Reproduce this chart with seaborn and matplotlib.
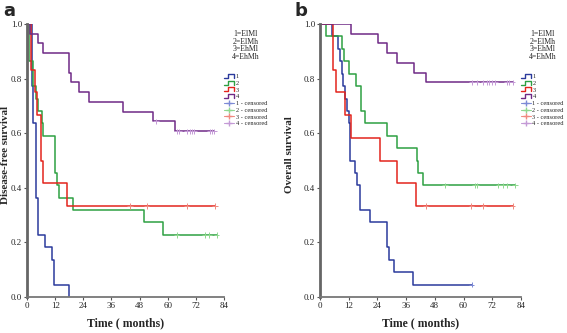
import numpy as np
import pandas as pd
import matplotlib
matplotlib.use("Agg")
import matplotlib.pyplot as plt
from matplotlib.lines import Line2D
from matplotlib.legend_handler import HandlerBase
import seaborn as sns

# ---- data ----
groups = ["1", "2", "3", "4"]

# panel a: disease-free survival (event times, survival after the step)
dfs_t1 = [0, 2, 2.7, 3.8, 4.8, 7.7, 10.8, 11.6, 18]
dfs_s1 = [1.0, 0.773, 0.636, 0.364, 0.227, 0.182, 0.136, 0.045, 0.0]
dfs_c1 = []
dfs_t2 = [0, 1, 2.7, 3.8, 4.8, 6.3, 6.7, 11.9, 12.9, 13.8, 19.7, 49.9, 58.1]
dfs_s2 = [1.0, 0.864, 0.773, 0.727, 0.682, 0.636, 0.591, 0.455, 0.409, 0.364, 0.318, 0.273, 0.227]
dfs_c2 = [63.8, 75.9, 77.7, 80.9]
dfs_t3 = [0, 1.7, 3.4, 4.1, 5.8, 6.7, 17]
dfs_s3 = [1.0, 0.833, 0.75, 0.667, 0.5, 0.417, 0.333]
dfs_c3 = [43.9, 51, 68.1, 80.2]
dfs_t4 = [0, 1.3, 4.8, 6.7, 17.9, 18.6, 22.2, 26.6, 40.9, 53.9, 63.1]
dfs_s4 = [1.0, 0.964, 0.929, 0.893, 0.821, 0.786, 0.75, 0.714, 0.679, 0.643, 0.607]
dfs_c4 = [55, 63.8, 65, 68.1, 69.5, 70.4, 71.2, 78, 79, 79.9]

# panel b: overall survival
os_t1 = [0, 4.9, 7.7, 8.4, 9.0, 9.8, 10.6, 11.4, 12.1, 12.6, 14.6, 15.3, 16.7, 20.9, 28.1, 29, 30.9, 39]
os_s1 = [1.0, 0.955, 0.909, 0.864, 0.818, 0.773, 0.727, 0.682, 0.636, 0.5, 0.455, 0.409, 0.318,
         0.273, 0.182, 0.136, 0.091, 0.045]
os_c1 = [63.4]
os_t2 = [0, 2.7, 9.0, 10.2, 12.3, 15, 17.1, 18.8, 28.1, 32, 40.4, 41.1, 43.2]
os_s2 = [1.0, 0.955, 0.909, 0.864, 0.818, 0.773, 0.682, 0.636, 0.591, 0.545, 0.5, 0.455, 0.409]
os_c2 = [52.2, 64.6, 65.5, 74.5, 76.3, 78.3, 81.5]
os_t3 = [0, 5.6, 6.6, 10.4, 12.8, 25.1, 32, 40.1]
os_s3 = [1.0, 0.833, 0.75, 0.667, 0.583, 0.5, 0.417, 0.333]
os_c3 = [44.2, 63.3, 68.3, 80.5]
os_t4 = [0, 13, 24.1, 28.1, 32, 39.4, 44.1]
os_s4 = [1.0, 0.964, 0.929, 0.893, 0.857, 0.821, 0.786]
os_c4 = [63.4, 65.5, 68.3, 69.7, 70.8, 71.9, 73.1, 78, 79.1, 80.5]

line_colors = ["#2b3a9c", "#2ea043", "#e3241c", "#6f2a86"]
cens_colors = ["#7d8ad6", "#8fd88f", "#f08a80", "#c49ad6"]
cens_labels = ["1 - censored", "2 - censored", "3 - censored", "4 - censored"]
key_text = "1=ElMl\n2=ElMh\n3=EhMl\n4=EhMh"


def survival_at(t_list, s_list, t):
    idx = np.searchsorted(t_list, t, side="right") - 1
    return s_list[idx]


def build_frames(times, survs, cens):
    rows, crow = [], []
    for g, t_list, s_list, c_list in zip(groups, times, survs, cens):
        for t, s in zip(t_list, s_list):
            rows.append((g, t, s))
        if c_list and c_list[-1] > t_list[-1]:
            rows.append((g, c_list[-1], s_list[-1]))
        for c in c_list:
            crow.append((g, c, survival_at(t_list, s_list, c)))
    return (pd.DataFrame(rows, columns=["group", "time", "surv"]),
            pd.DataFrame(crow, columns=["group", "time", "surv"]))


class StepHandler(HandlerBase):
    def create_artists(self, legend, orig_handle, xdescent, ydescent,
                       width, height, fontsize, trans):
        lo, hi = 0.05 * height, 0.95 * height
        xs = [0, 0.4 * width, 0.4 * width, width, width]
        ys = [lo, lo, hi, hi, lo]
        ln = Line2D(xs, ys, color=orig_handle.get_color(), lw=1.0, transform=trans)
        return [ln]


sns.set_style("white")
plt.rcParams["font.family"] = ["Liberation Serif", "DejaVu Serif"]

fig = plt.figure(figsize=(5.67, 3.33), dpi=100)
ax_a = fig.add_axes([27 / 567, 36 / 333, 197 / 567, 273 / 333])
ax_b = fig.add_axes([320 / 567, 36 / 333, 201 / 567, 273 / 333])

panels = [
    (ax_a, [dfs_t1, dfs_t2, dfs_t3, dfs_t4], [dfs_s1, dfs_s2, dfs_s3, dfs_s4],
     [dfs_c1, dfs_c2, dfs_c3, dfs_c4], "Disease-free survival", "a", -0.088, 3),
    (ax_b, [os_t1, os_t2, os_t3, os_t4], [os_s1, os_s2, os_s3, os_s4],
     [os_c1, os_c2, os_c3, os_c4], "Overall survival", "b", -0.13, 295),
]

for ax, times, survs, cens, ylabel, letter, ylab_x, letter_px in panels:
    lines_df, cens_df = build_frames(times, survs, cens)
    sns.lineplot(data=lines_df, x="time", y="surv", hue="group", hue_order=groups,
                 palette=line_colors, estimator=None, drawstyle="steps-post",
                 lw=1.1, legend=False, ax=ax)
    sns.scatterplot(data=cens_df, x="time", y="surv", hue="group", hue_order=groups,
                    palette=cens_colors, marker="+", s=14, linewidth=0.7,
                    legend=False, ax=ax, zorder=3)

    ax.set_xlim(0, 84)
    ax.set_ylim(0, 1.0)
    ax.set_xticks(range(0, 85, 12))
    ax.set_yticks(np.arange(0, 1.01, 0.2))
    ax.set_yticklabels([f"{v:.1f}" for v in np.arange(0, 1.01, 0.2)])
    ax.tick_params(axis="both", labelsize=6.5, length=2.5, width=0.8, color="#555555",
                   pad=1, left=True, bottom=True)
    for side in ["top", "right"]:
        ax.spines[side].set_visible(False)
    ax.spines["left"].set_linewidth(2.0)
    ax.spines["left"].set_color("#666666")
    ax.spines["bottom"].set_linewidth(1.3)
    ax.spines["bottom"].set_color("#777777")
    ax.set_xlabel("Time ( months)", fontsize=8.5, fontweight="bold", labelpad=5)
    ax.set_ylabel(ylabel, fontsize=8, fontweight="bold")
    ax.yaxis.set_label_coords(ylab_x, 0.52)
    fig.text(letter_px / 567, 1 - 2 / 333, letter, fontsize=13, fontweight="bold",
             family="DejaVu Sans", va="top", ha="left")

    handles = [Line2D([], [], color=c) for c in line_colors]
    handles += [Line2D([], [], color=c, marker="+", markersize=5, lw=0.8) for c in cens_colors]
    labels = groups + cens_labels
    hmap = {h: StepHandler() for h in handles[:4]}
    leg = ax.legend(handles, labels, handler_map=hmap, title=key_text,
                    loc="upper left", bbox_to_anchor=(1.0, 0.978), frameon=False,
                    fontsize=4.6, title_fontsize=5.6, handlelength=1.6,
                    handletextpad=0.2, labelspacing=0.2, borderpad=0,
                    borderaxespad=0)
    leg.get_title().set_multialignment("center")
    leg.get_title().set_linespacing(0.95)
    leg._legend_box.sep = 9

fig.savefig("out.png", dpi=100)
